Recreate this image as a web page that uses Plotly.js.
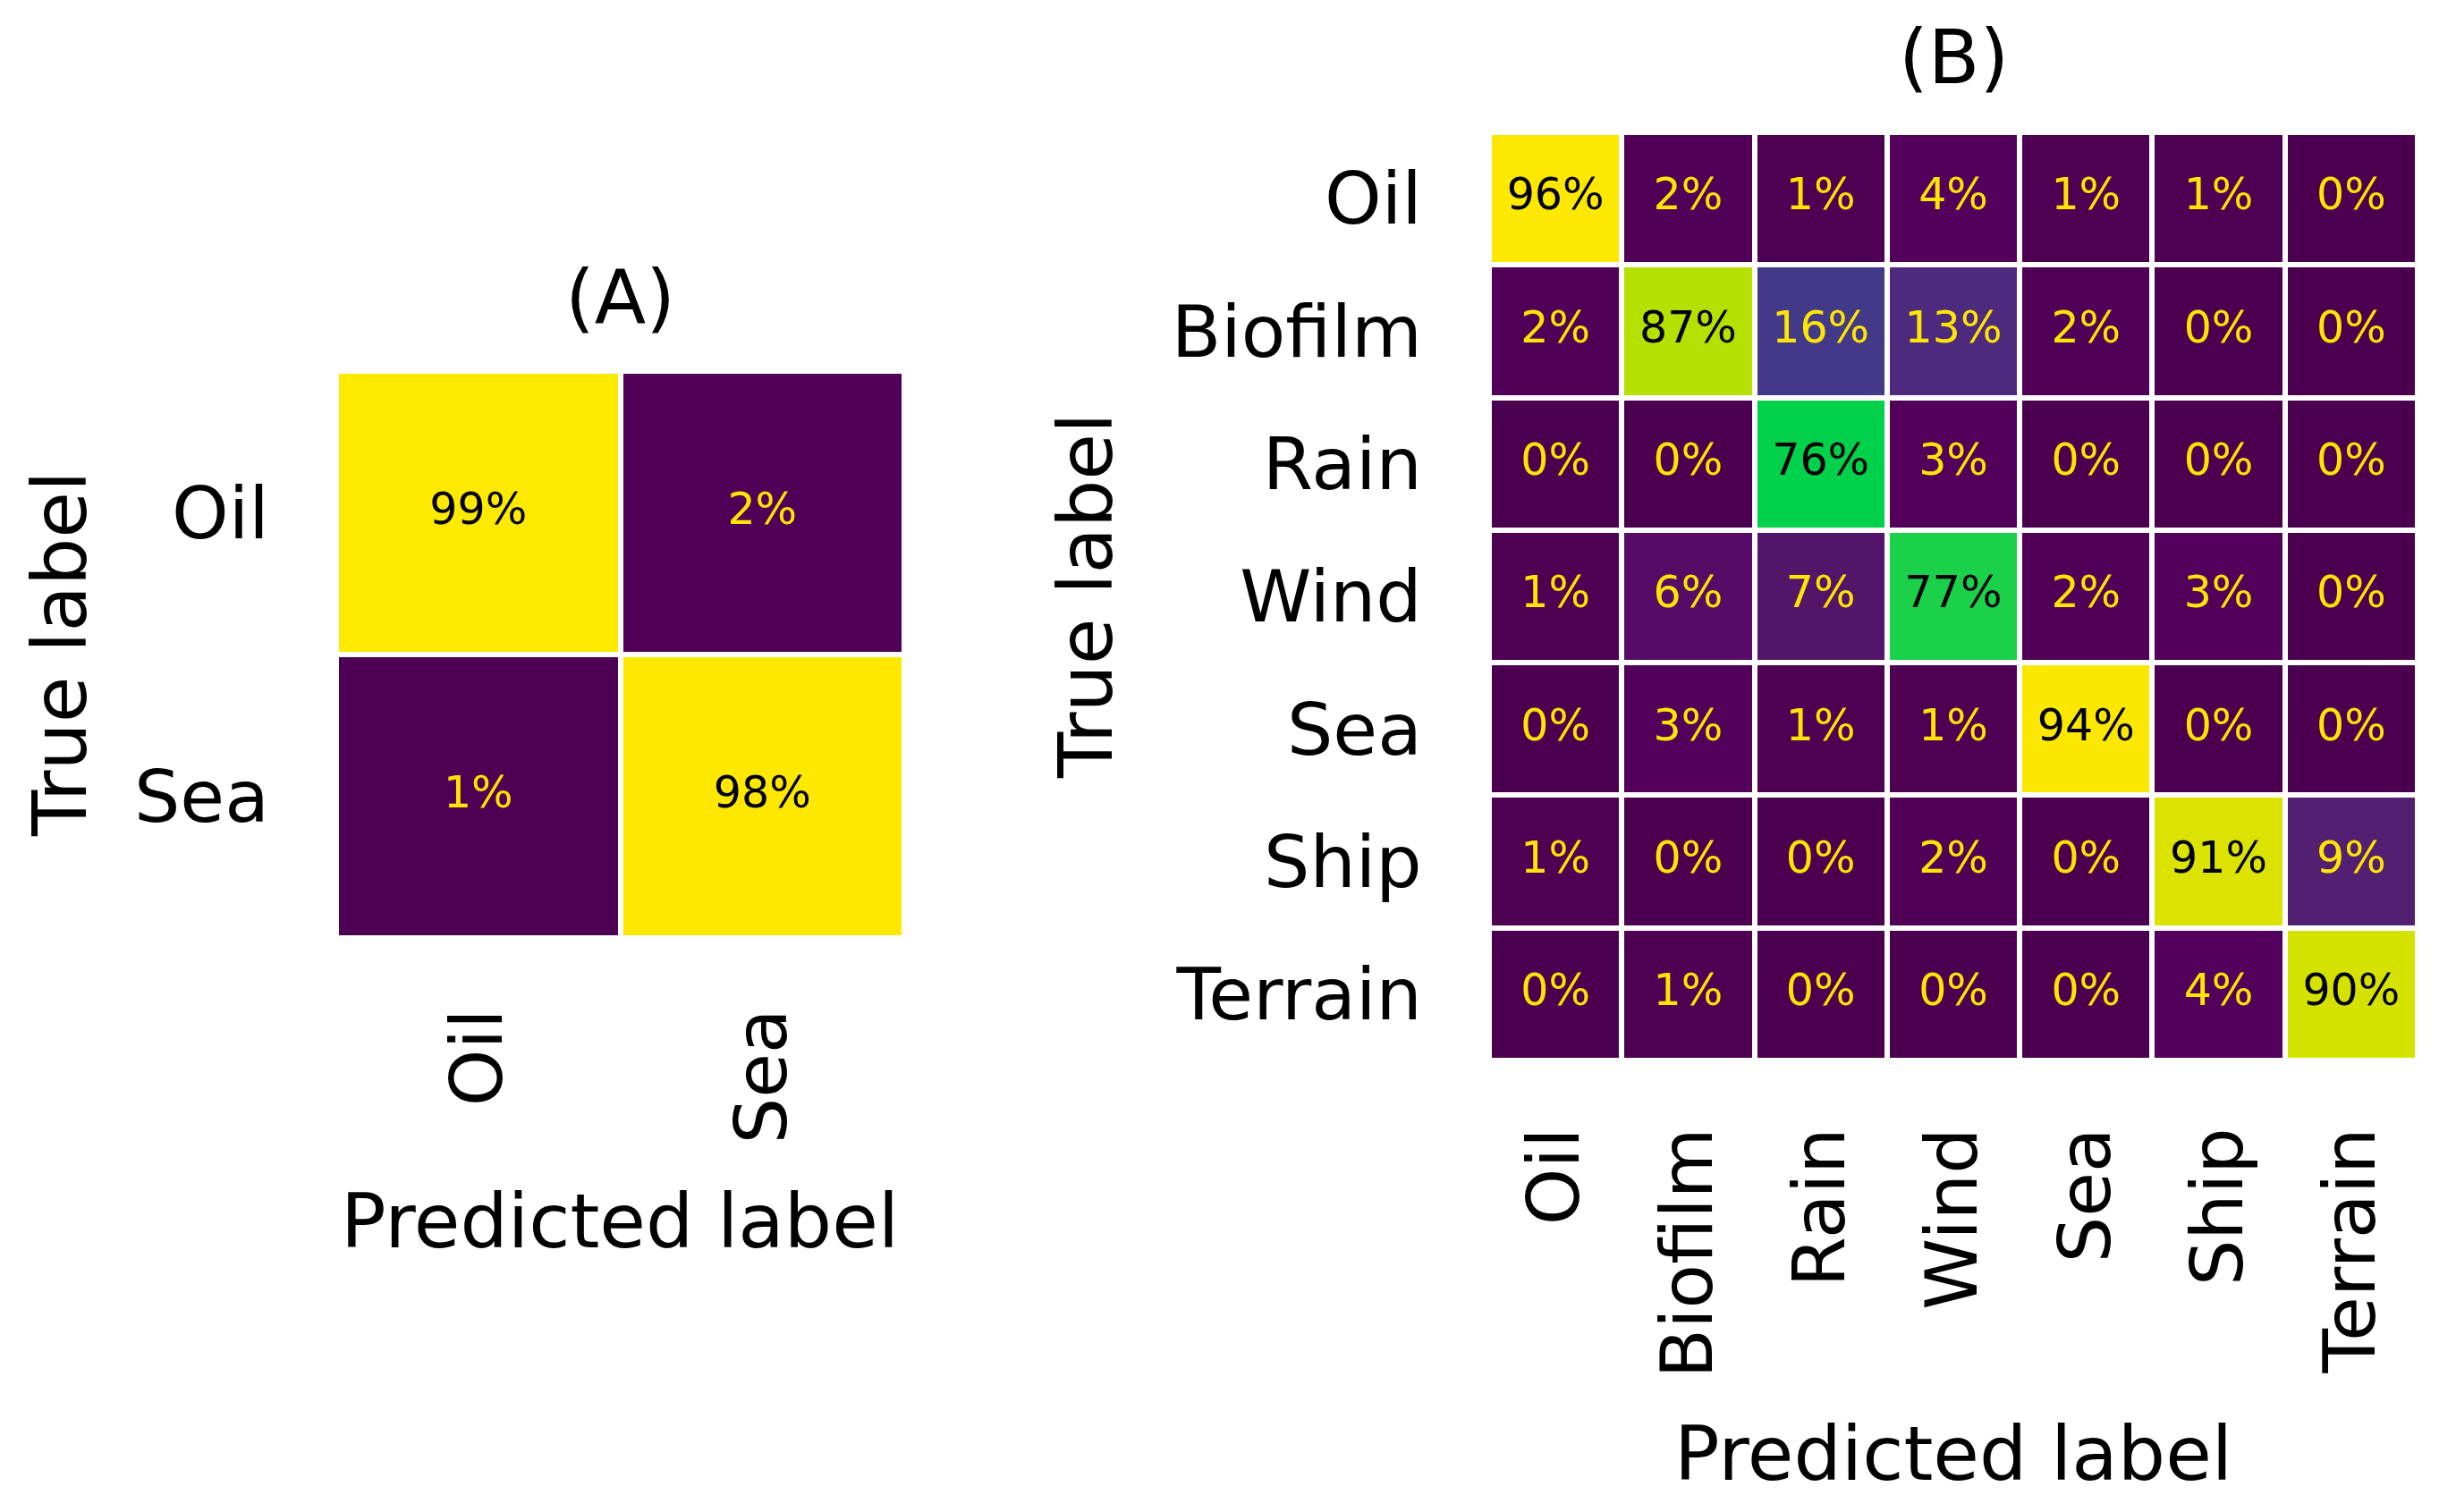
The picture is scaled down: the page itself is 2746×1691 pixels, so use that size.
<!DOCTYPE html>
<html>
<head>
<meta charset="utf-8">
<script src="https://cdn.plot.ly/plotly-3.0.1.min.js"></script>
<style>
  html, body { margin: 0; padding: 0; background: #ffffff; }
  #chart { width: 2746px; height: 1691px; }
</style>
</head>
<body>
<div id="chart"></div>
<script>
// ---------- data ----------
const labelsA = ['Oil', 'Sea'];
const valuesA = [
  [99, 2],
  [1, 98]
];

const labelsB = ['Oil', 'Biofilm', 'Rain', 'Wind', 'Sea', 'Ship', 'Terrain'];
const valuesB = [
  [96, 2, 1, 4, 1, 1, 0],
  [2, 87, 16, 13, 2, 0, 0],
  [0, 0, 76, 3, 0, 0, 0],
  [1, 6, 7, 77, 2, 3, 0],
  [0, 3, 1, 1, 94, 0, 0],
  [1, 0, 0, 2, 0, 91, 9],
  [0, 1, 0, 0, 0, 4, 90]
];

const titleA = '(A)';
const titleB = '(B)';
const xTitle = 'Predicted label';
const yTitle = 'True label';

// ---------- styling ----------
const W = 2746, H = 1691;
const FONT = 'DejaVu Sans, Verdana, sans-serif';
const colorscale = [
  [0.00, '#4b004f'],
  [0.01, '#4e0053'],
  [0.02, '#500056'],
  [0.03, '#52005a'],
  [0.04, '#53005d'],
  [0.06, '#560c66'],
  [0.07, '#53156a'],
  [0.09, '#531f72'],
  [0.13, '#4d2a7e'],
  [0.16, '#423989'],
  [0.76, '#00d14b'],
  [0.77, '#1bd14a'],
  [0.87, '#b5e000'],
  [0.90, '#d5e200'],
  [0.91, '#dce300'],
  [0.94, '#fbe700'],
  [1.00, '#ffe900']
];
const lightText = '#ffe600';
const darkText = '#000000';

function heat(labels, vals, xa, ya) {
  return {
    type: 'heatmap', x: labels, y: labels, z: vals,
    xaxis: xa, yaxis: ya, colorscale: colorscale, zmin: 0, zmax: 100,
    xgap: 6, ygap: 6, showscale: false, hoverinfo: 'skip'
  };
}
function cellText(labels, vals, xa, ya) {
  const xs = [], ys = [], ts = [], cs = [];
  vals.forEach((row, i) => row.forEach((v, j) => {
    xs.push(labels[j]); ys.push(labels[i]);
    ts.push(v + '%'); cs.push(v > 50 ? darkText : lightText);
  }));
  return {
    type: 'scatter', mode: 'text', x: xs, y: ys, text: ts,
    textposition: 'middle center',
    textfont: { family: FONT, size: 49, color: cs },
    xaxis: xa, yaxis: ya, hoverinfo: 'skip', showlegend: false
  };
}

const tickFont = { family: FONT, size: 81, color: '#000' };
function xAxis(domain, anchor, n, len) {
  return {
    domain: domain, anchor: anchor, type: 'category', range: [-0.5, n - 0.5],
    tickfont: tickFont, tickangle: -90, ticks: 'outside', ticklen: len,
    tickcolor: 'rgba(0,0,0,0)', showgrid: false, zeroline: false, showline: false,
    automargin: false, fixedrange: true
  };
}
function yAxis(domain, anchor, n, len) {
  return {
    domain: domain, anchor: anchor, type: 'category', range: [n - 0.5, -0.5],
    tickfont: tickFont, ticks: 'outside', ticklen: len,
    tickcolor: 'rgba(0,0,0,0)', showgrid: false, zeroline: false, showline: false,
    automargin: false, fixedrange: true
  };
}

const data = [
  heat(labelsA, valuesA, 'x', 'y'),
  cellText(labelsA, valuesA, 'x', 'y'),
  heat(labelsB, valuesB, 'x2', 'y2'),
  cellText(labelsB, valuesB, 'x2', 'y2')
];

const titleFont = { family: FONT, size: 84, color: '#000' };
function ann(text, x, y, angle) {
  return {
    text: text, xref: 'paper', yref: 'paper', x: x, y: y,
    xanchor: 'center', yanchor: 'middle', showarrow: false,
    font: titleFont, textangle: angle || 0
  };
}

const layout = {
  width: W, height: H,
  margin: { l: 0, r: 0, t: 0, b: 0, pad: 0 },
  paper_bgcolor: '#ffffff', plot_bgcolor: '#ffffff',
  showlegend: false,
  xaxis: xAxis([376 / W, 1011 / W], 'y', labelsA.length, 46),
  yaxis: yAxis([642 / H, 1276 / H], 'x', labelsA.length, 58),
  xaxis2: xAxis([1665 / W, 2703 / W], 'y2', labelsB.length, 42),
  yaxis2: yAxis([505 / H, 1543 / H], 'x2', labelsB.length, 58),
  annotations: [
    ann(titleA, 693 / W, 1 - 333 / H),
    ann(titleB, 2184 / W, 1 - 64 / H),
    ann(xTitle, 693 / W, 1 - 1366 / H),
    ann(xTitle, 2184 / W, 1 - 1626 / H),
    ann(yTitle, 67 / W, 1 - 732 / H, -90),
    ann(yTitle, 1214 / W, 1 - 667 / H, -90)
  ]
};

Plotly.newPlot('chart', data, layout, { staticPlot: true, displayModeBar: false });
</script>
</body>
</html>
